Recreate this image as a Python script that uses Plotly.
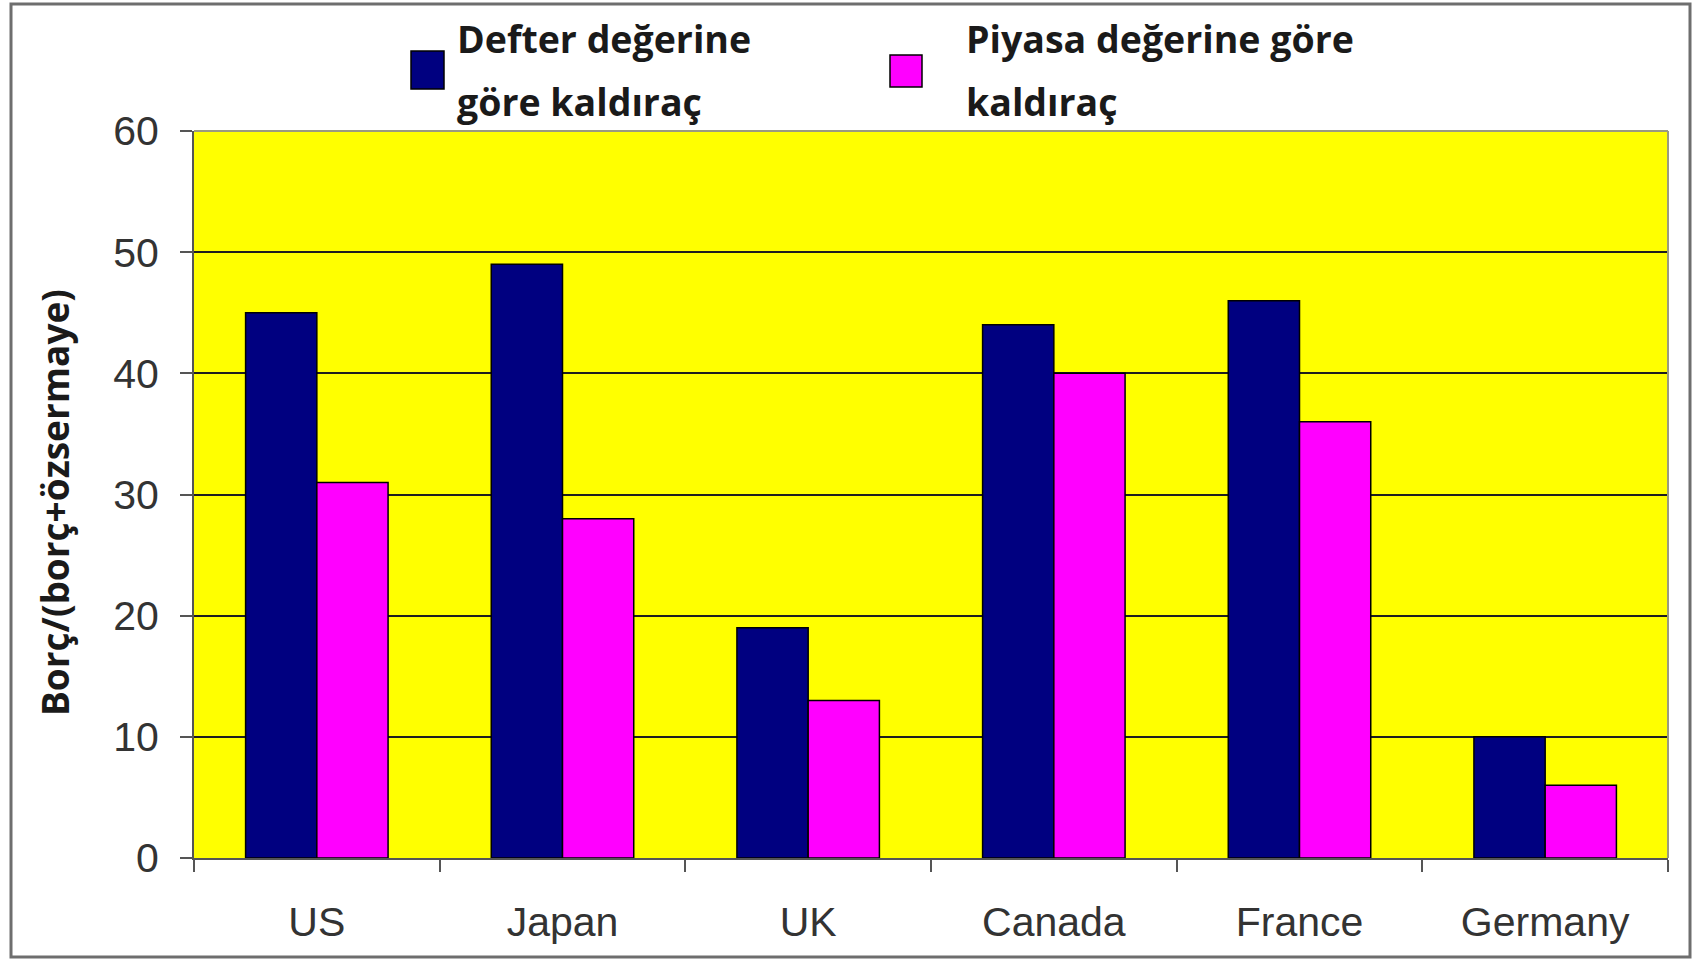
import plotly.graph_objects as go

# Leverage by country: book-value vs market-value basis
countries = ["US", "Japan", "UK", "Canada", "France", "Germany"]
book_leverage = [45, 49, 19, 44, 46, 10]
market_leverage = [31, 28, 13, 40, 36, 6]
book_label = ["Defter değerine", "göre kaldıraç"]
market_label = ["Piyasa değerine göre", "kaldıraç"]
y_title = "Borç/(borç+özsermaye)"
y_ticks = [0, 10, 20, 30, 40, 50, 60]

W, H = 1697, 960
L, R, T, B = 194, 29, 131, 102
PW, PH = W - L - R, H - T - B


def px_x(x):
    return (x - L) / PW


def px_y(y):
    return (H - B - y) / PH


fig = go.Figure()
fig.add_trace(go.Bar(
    x=countries, y=book_leverage, name=" ".join(book_label),
    marker=dict(color="#000080", line=dict(color="#000000", width=1.5)),
    showlegend=False,
))
fig.add_trace(go.Bar(
    x=countries, y=market_leverage, name=" ".join(market_label),
    marker=dict(color="#FF00FF", line=dict(color="#000000", width=1.5)),
    showlegend=False,
))

tick_font = dict(family="Liberation Sans, Arial, sans-serif", size=41, color="#333333")
bold_font = dict(family="Open Sans, sans-serif", size=37.5, color="#1a1a1a", weight="bold")

fig.update_layout(
    width=W, height=H,
    margin=dict(l=L, r=R, t=T, b=B),
    paper_bgcolor="#FFFFFF",
    plot_bgcolor="#FFFF00",
    barmode="group",
    bargap=0.42,
    bargroupgap=0,
    xaxis=dict(
        type="category",
        showgrid=False,
        showline=True, linecolor="#555555", linewidth=2,
        ticks="outside", tickson="boundaries", ticklen=12, tickwidth=2, tickcolor="#555555",
        tickfont=tick_font,
        ticklabelstandoff=27,
    ),
    yaxis=dict(
        range=[0, 60],
        tickvals=y_ticks,
        showgrid=True, gridcolor="#1e1e1e", gridwidth=2,
        zeroline=False,
        showline=True, linecolor="#555555", linewidth=2,
        ticks="outside", ticklen=12, tickwidth=2, tickcolor="#555555",
        tickfont=tick_font,
        ticklabelstandoff=13,
    ),
)

# Plot-area border on the top and right sides
for x0, y0, x1, y1 in [(0, 1, 1, 1), (1, 0, 1, 1)]:
    fig.add_shape(
        type="line", xref="paper", yref="paper", x0=x0, y0=y0, x1=x1, y1=y1,
        line=dict(color="#9a9a80", width=2), layer="above",
    )

# Y axis title
fig.add_annotation(
    text=y_title, textangle=-90, showarrow=False,
    xref="paper", yref="paper", x=px_x(54), y=px_y(503),
    xanchor="center", yanchor="middle",
    font=dict(family="Open Sans, sans-serif", size=37, color="#1a1a1a", weight="bold"),
)

# Legend swatches and labels (two lines each)
legend_items = [
    ("#000080", (411, 51, 444, 89), 455, book_label),
    ("#FF00FF", (890, 55, 922, 87), 964, market_label),
]
for color, (x0, y0, x1, y1), tx, lines in legend_items:
    fig.add_shape(
        type="rect", xref="paper", yref="paper",
        x0=px_x(x0), x1=px_x(x1), y0=px_y(y1), y1=px_y(y0),
        fillcolor=color, line=dict(color="#000000", width=1.5),
    )
    for line_text, ty in zip(lines, (39, 101)):
        fig.add_annotation(
            text=line_text, showarrow=False, align="left",
            xref="paper", yref="paper", x=px_x(tx), y=px_y(ty),
            xanchor="left", yanchor="middle",
            font=bold_font,
        )

# Outer frame
fig.add_shape(
    type="rect", xref="paper", yref="paper",
    x0=px_x(11), x1=px_x(1690), y0=px_y(957), y1=px_y(4),
    fillcolor="rgba(0,0,0,0)", line=dict(color="#6e6e6e", width=3),
    layer="above",
)

fig.write_html("out.html")
